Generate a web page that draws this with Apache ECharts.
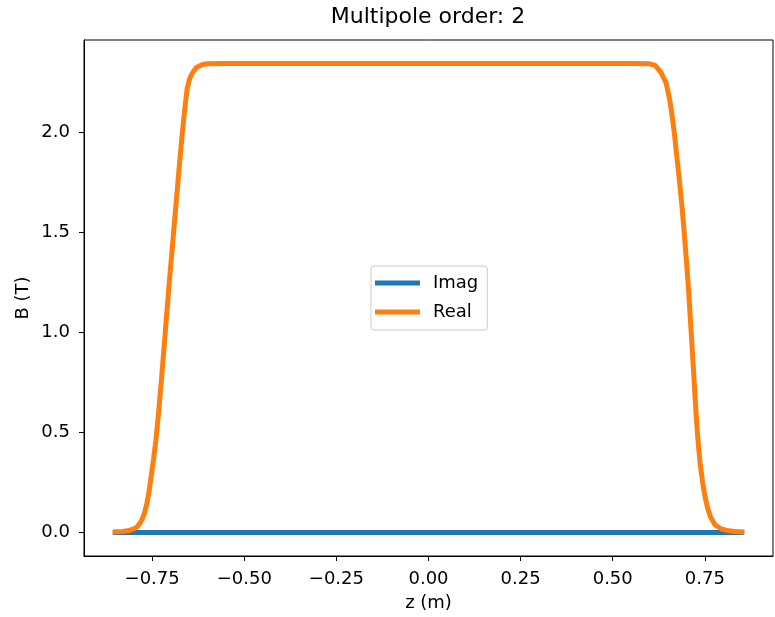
<!DOCTYPE html>
<html>
<head>
<meta charset="utf-8">
<script src="https://cdn.jsdelivr.net/npm/echarts@6/dist/echarts.min.js"></script>
<style>
  html, body { margin: 0; padding: 0; background: #fff; }
  #chart { width: 775px; height: 617px; }
</style>
</head>
<body>
<div id="chart"></div>
<script>
// z positions (m)
var zPos = [
  -0.857, -0.830, -0.813, -0.800, -0.790, -0.780, -0.772, -0.765, -0.758, -0.752,
  -0.746, -0.740, -0.733, -0.725, -0.718, -0.711, -0.704, -0.697, -0.690, -0.683,
  -0.676, -0.669, -0.662, -0.655, -0.648, -0.640, -0.630, -0.615, -0.600, -0.550,
  -0.400, -0.200, 0.000, 0.200, 0.400, 0.550,
  0.600, 0.615, 0.631, 0.645, 0.654, 0.660, 0.667, 0.674, 0.681, 0.688,
  0.694, 0.700, 0.706, 0.711, 0.716, 0.721, 0.726, 0.731, 0.737, 0.744,
  0.751, 0.758, 0.766, 0.778, 0.795, 0.811, 0.830, 0.857
];
// real part of B (T)
var realB = [
  0.003, 0.005, 0.010, 0.018, 0.030, 0.055, 0.090, 0.140, 0.210, 0.290,
  0.370, 0.460, 0.590, 0.760, 0.920, 1.080, 1.240, 1.390, 1.540, 1.690,
  1.840, 1.980, 2.110, 2.220, 2.270, 2.300, 2.325, 2.338, 2.343, 2.345,
  2.345, 2.345, 2.345, 2.345, 2.345, 2.345,
  2.343, 2.335, 2.300, 2.247, 2.170, 2.100, 2.000, 1.880, 1.760, 1.630,
  1.500, 1.360, 1.210, 1.060, 0.910, 0.760, 0.600, 0.470, 0.350, 0.250,
  0.175, 0.120, 0.075, 0.038, 0.018, 0.010, 0.005, 0.003
];
// imaginary part of B (T)
var imagB = [
  0, 0, 0, 0, 0, 0, 0, 0, 0, 0, 0, 0, 0, 0, 0, 0, 0, 0, 0, 0,
  0, 0, 0, 0, 0, 0, 0, 0, 0, 0, 0, 0, 0, 0, 0, 0, 0, 0, 0, 0,
  0, 0, 0, 0, 0, 0, 0, 0, 0, 0, 0, 0, 0, 0, 0, 0, 0, 0, 0, 0,
  0, 0, 0, 0
];
var xTicks = [-0.75, -0.5, -0.25, 0, 0.25, 0.5, 0.75];
var yTicks = [0, 0.5, 1.0, 1.5, 2.0];

var font = 'DejaVu Sans';
var chart = echarts.init(document.getElementById('chart'));

function pairs(ys) {
  return zPos.map(function (z, i) { return [z, ys[i]]; });
}

var option = {
  animation: false,
  backgroundColor: '#fff',
  title: {
    text: 'Multipole order: 2',
    left: 428,
    textAlign: 'center',
    top: 6,
    padding: 0,
    textStyle: { fontFamily: font, fontSize: 22, fontWeight: 'normal', color: '#000' }
  },
  grid: {
    left: 84, right: 2, top: 40, bottom: 61,
    show: true, borderColor: '#000', borderWidth: 1,
    outerBoundsMode: 'none'
  },
  legend: {
    data: ['Imag', 'Real'],
    orient: 'vertical',
    left: 371,
    top: 266,
    icon: 'rect',
    itemWidth: 45,
    itemHeight: 5,
    itemGap: 7,
    padding: [6, 9, 7, 4],
    backgroundColor: '#fff',
    borderColor: '#cccccc',
    borderWidth: 1,
    borderRadius: 3,
    textStyle: { fontFamily: font, fontSize: 18, color: '#000', lineHeight: 22, padding: [0, 0, 0, 8] }
  },
  xAxis: {
    type: 'value',
    min: -0.935,
    max: 0.935,
    name: 'z (m)',
    nameLocation: 'middle',
    nameGap: 38,
    nameMoveOverlap: false,
    nameTextStyle: { fontFamily: font, fontSize: 18, color: '#000' },
    axisLine: { show: true, onZero: false, lineStyle: { color: '#000', width: 1 } },
    axisTick: { show: true, length: 5, customValues: xTicks, lineStyle: { color: '#000' } },
    axisLabel: {
      customValues: xTicks,
      margin: 14,
      fontFamily: font, fontSize: 18, color: '#000',
      formatter: function (v) { return v.toFixed(2).replace('-', '\u2212'); }
    },
    splitLine: { show: false }
  },
  yAxis: {
    type: 'value',
    min: -0.117,
    max: 2.462,
    name: 'B (T)',
    nameLocation: 'middle',
    nameRotate: 90,
    nameGap: 52,
    nameMoveOverlap: false,
    nameTextStyle: { fontFamily: font, fontSize: 18, color: '#000' },
    axisLine: { show: true, onZero: false, lineStyle: { color: '#000', width: 1 } },
    axisTick: { show: true, length: 5, customValues: yTicks, lineStyle: { color: '#000' } },
    axisLabel: {
      customValues: yTicks,
      margin: 14,
      fontFamily: font, fontSize: 18, color: '#000',
      formatter: function (v) { return v.toFixed(1); }
    },
    splitLine: { show: false }
  },
  series: [
    {
      name: 'Imag',
      type: 'line',
      data: pairs(imagB),
      showSymbol: false,
      color: '#1f77b4',
      lineStyle: { width: 5, color: '#1f77b4' }
    },
    {
      name: 'Real',
      type: 'line',
      data: pairs(realB),
      showSymbol: false,
      color: '#ff7f0e',
      lineStyle: { width: 5, color: '#ff7f0e', join: 'round' }
    }
  ]
};
chart.setOption(option);
</script>
</body>
</html>
